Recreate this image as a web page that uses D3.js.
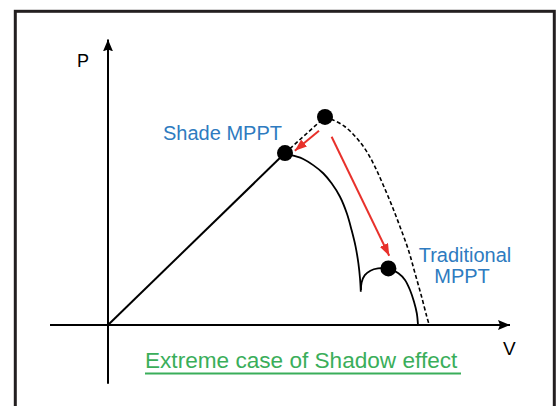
<!DOCTYPE html>
<html><head><meta charset="utf-8">
<script src="https://cdn.jsdelivr.net/npm/d3@7"></script>
<style>html,body{margin:0;padding:0;background:#fff;}svg{display:block;}</style>
</head><body>
<script>
// Data in (V, P) units
const shadeMPPT = [44.25, 61.4];
const globalMPP = [54.25, 74.3];
const tradMPPT = [70.1, 20.2];
const linearPart = [[0, 0], shadeMPPT];
const dashedLink = [shadeMPPT, globalMPP];
const dashedCurve = [globalMPP, [55.9, 73.5], [59.25, 70.8], [62.2, 66.7], [64.7, 61.9], [66.75, 56.5], [68.8, 50], [70.9, 42.9], [73, 35.1], [75.1, 26.8], [76.75, 18.5], [78.4, 10.1], [79.7, 3], [80.3, 0]];
const solidCurve = [shadeMPPT, [46.3, 60.5], [48.8, 59.3], [51.3, 57.1], [53.8, 54.2], [55.9, 50.6], [58, 45.8], [59.7, 39.9], [60.9, 33.9], [61.9, 28], [62.6, 22], [63, 16.7], [63.2, 11.9]];
const humpCurve = [[63.25, 12.5], [63.4, 15.2], [64.2, 17.8], [65.6, 19.4], [67.5, 20.2], [70.1, 20.2], [72.6, 18.5], [74.25, 16.1], [75.5, 12.5], [76.5, 8.3], [77.2, 4.2], [77.5, 0]];
const arrows = [
  {from: [52.75, 69.4], to: [46.7, 62.25]},
  {from: [55.9, 67.25], to: [70.3, 24.75]}
];
const labels = {shade: "Shade MPPT", trad: ["Traditional", "MPPT"], title: "Extreme case of Shadow effect", xName: "V", yName: "P"};

const W = 558, H = 406;
const x = d3.scaleLinear().domain([0, 100]).range([108, 508]);
const y = d3.scaleLinear().domain([0, 100]).range([325, 45]);

const svg = d3.select("body").append("svg").attr("width", W).attr("height", H);
const defs = svg.append("defs");
defs.append("marker").attr("id", "axArrow").attr("viewBox", "0 0 12 10").attr("refX", 12).attr("refY", 5)
  .attr("markerWidth", 12).attr("markerHeight", 10).attr("markerUnits", "userSpaceOnUse").attr("orient", "auto")
  .append("path").attr("d", "M0,0 L12,5 L0,10 L2,5 Z").attr("fill", "#000");
defs.append("marker").attr("id", "redArrow").attr("viewBox", "0 0 12 9").attr("refX", 12).attr("refY", 4.5)
  .attr("markerWidth", 12).attr("markerHeight", 9).attr("markerUnits", "userSpaceOnUse").attr("orient", "auto")
  .append("path").attr("d", "M0,0 L12,4.5 L0,9 Z").attr("fill", "#e8312b");

// Frame
svg.append("rect").attr("x", 15.3).attr("y", 11.3).attr("width", 539).attr("height", 420)
  .attr("fill", "none").attr("stroke", "#231f20").attr("stroke-width", 3);

// Axes
svg.append("line").attr("x1", x(-14.5)).attr("y1", y(0)).attr("x2", x(100.5)).attr("y2", y(0))
  .attr("stroke", "#000").attr("stroke-width", 2).attr("marker-end", "url(#axArrow)");
svg.append("line").attr("x1", x(0)).attr("y1", y(-21)).attr("x2", x(0)).attr("y2", y(102))
  .attr("stroke", "#000").attr("stroke-width", 2).attr("marker-end", "url(#axArrow)");

const lineStraight = d3.line().x(d => x(d[0])).y(d => y(d[1]));
const lineSmooth = d3.line().x(d => x(d[0])).y(d => y(d[1])).curve(d3.curveCatmullRom.alpha(0.5));

svg.append("path").attr("d", lineStraight(linearPart)).attr("fill", "none").attr("stroke", "#000").attr("stroke-width", 2);
svg.append("path").attr("d", lineStraight(dashedLink)).attr("fill", "none").attr("stroke", "#000").attr("stroke-width", 1.6).attr("stroke-dasharray", "4,2.5");
svg.append("path").attr("d", lineSmooth(dashedCurve)).attr("fill", "none").attr("stroke", "#000").attr("stroke-width", 1.6).attr("stroke-dasharray", "4,2.5");
svg.append("path").attr("d", lineSmooth(solidCurve)).attr("fill", "none").attr("stroke", "#000").attr("stroke-width", 1.8);
svg.append("path").attr("d", lineSmooth(humpCurve)).attr("fill", "none").attr("stroke", "#000").attr("stroke-width", 1.8);

// Red arrows
svg.selectAll("line.red").data(arrows).join("line").attr("class", "red")
  .attr("x1", d => x(d.from[0])).attr("y1", d => y(d.from[1]))
  .attr("x2", d => x(d.to[0])).attr("y2", d => y(d.to[1]))
  .attr("stroke", "#e8312b").attr("stroke-width", 2).attr("marker-end", "url(#redArrow)");

// Dots
svg.selectAll("circle.pt").data([shadeMPPT, globalMPP, tradMPPT]).join("circle").attr("class", "pt")
  .attr("cx", d => x(d[0])).attr("cy", d => y(d[1])).attr("r", 8).attr("fill", "#000");

// Labels
const font = "'Liberation Sans', Arial, sans-serif";
svg.append("text").attr("x", 163).attr("y", 140).attr("font-family", font).attr("font-size", 20)
  .attr("fill", "#2e7bc0").text(labels.shade);
svg.append("text").attr("x", 465).attr("y", 262).attr("text-anchor", "middle").attr("font-family", font).attr("font-size", 20)
  .attr("fill", "#2e7bc0").text(labels.trad[0]);
svg.append("text").attr("x", 462).attr("y", 283).attr("text-anchor", "middle").attr("font-family", font).attr("font-size", 20)
  .attr("fill", "#2e7bc0").text(labels.trad[1]);
svg.append("text").attr("x", 77).attr("y", 67).attr("font-family", font).attr("font-size", 18).attr("fill", "#000").text(labels.yName);
svg.append("text").attr("x", 503).attr("y", 355).attr("font-family", font).attr("font-size", 19).attr("fill", "#000").text(labels.xName);
svg.append("text").attr("x", 145).attr("y", 368).attr("font-family", font).attr("font-size", 22.6)
  .attr("fill", "#3aae5a").text(labels.title);
svg.append("line").attr("x1", 145).attr("x2", 461).attr("y1", 373.5).attr("y2", 373.5).attr("stroke", "#3aae5a").attr("stroke-width", 2);
</script>
</body></html>
